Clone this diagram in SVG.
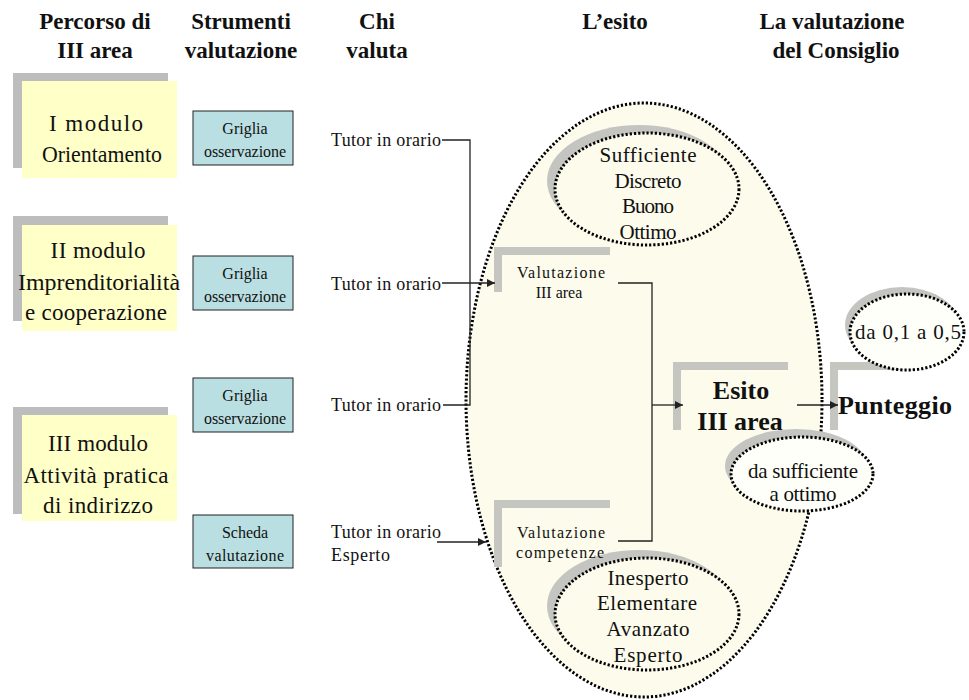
<svg xmlns="http://www.w3.org/2000/svg" width="969" height="700" viewBox="0 0 969 700" font-family="'Liberation Serif', 'DejaVu Serif', serif">
<style>
text{font-family:'Liberation Serif','Times New Roman','DejaVu Serif',serif;fill:#111;}
.hdr{font-size:23px;font-weight:bold;text-anchor:middle;}
.mod{font-size:23px;text-anchor:middle;}
.tool{font-size:16px;text-anchor:middle;}
.who{font-size:18px;}
.lvl{font-size:21px;text-anchor:middle;}
.val{font-size:16px;text-anchor:middle;}
.big{font-size:26px;font-weight:bold;}
.shadow{fill:#bdbdbd;}
.note{fill:#ffffc8;}
.toolbox{fill:#b9dfe2;stroke:#222;stroke-width:1;}
.dot{fill:#fcfbec;stroke:#000;stroke-width:3;stroke-dasharray:2.2 2;}
.dotw{fill:#fffffa;stroke:#000;stroke-width:3;stroke-dasharray:2.2 2;}
.crescent{fill:#c4c4c0;}
.bracket{fill:none;stroke:#c6c6c0;stroke-width:8;}
.conn{fill:none;stroke:#222;stroke-width:1.3;}
</style>
<defs>
<marker id="arr" viewBox="0 0 10 10" refX="10" refY="5" markerWidth="8" markerHeight="8" markerUnits="userSpaceOnUse" orient="auto">
<path d="M0,0 L10,5 L0,10 z" fill="#222"/>
</marker>
</defs>
<rect width="969" height="700" fill="#fff"/>

<g id="headers">
<text class="hdr" x="95" y="29">Percorso di</text>
<text class="hdr" x="95" y="58">III area</text>
<text class="hdr" x="241" y="29">Strumenti</text>
<text class="hdr" x="241" y="58">valutazione</text>
<text class="hdr" x="377" y="29">Chi</text>
<text class="hdr" x="377" y="58">valuta</text>
<text class="hdr" x="615" y="29">L’esito</text>
<text class="hdr" x="832" y="29">La valutazione</text>
<text class="hdr" x="836" y="58">del Consiglio</text>
</g>

<g id="modulo1">
<rect class="shadow" x="13" y="73" width="155" height="95"/>
<rect class="note" x="22" y="81" width="155" height="97"/>
<text class="mod" x="96" y="131" textLength="94" lengthAdjust="spacing">I modulo</text>
<text class="mod" x="102" y="162" textLength="120" lengthAdjust="spacingAndGlyphs">Orientamento</text>
</g>
<g id="modulo2">
<rect class="shadow" x="13" y="216" width="155" height="105"/>
<rect class="note" x="22" y="225" width="155" height="106"/>
<text class="mod" x="98" y="258" textLength="95" lengthAdjust="spacing">II modulo</text>
<text class="mod" x="99" y="290" textLength="162" lengthAdjust="spacingAndGlyphs">Imprenditorialità</text>
<text class="mod" x="96" y="320" textLength="142" lengthAdjust="spacing">e cooperazione</text>
</g>
<g id="modulo3">
<rect class="shadow" x="13" y="407" width="155" height="107"/>
<rect class="note" x="22" y="415" width="155" height="106"/>
<text class="mod" x="98" y="451" textLength="100" lengthAdjust="spacing">III modulo</text>
<text class="mod" x="96" y="483" textLength="145" lengthAdjust="spacing">Attività pratica</text>
<text class="mod" x="98" y="513" textLength="110" lengthAdjust="spacing">di indirizzo</text>
</g>

<g id="strumento1">
<rect class="toolbox" x="193" y="111" width="100" height="54"/>
<text class="tool" x="245" y="134">Griglia</text>
<text class="tool" x="245" y="157" textLength="82" lengthAdjust="spacing">osservazione</text>
</g>
<g id="strumento2">
<rect class="toolbox" x="193" y="256" width="100" height="54"/>
<text class="tool" x="245" y="279">Griglia</text>
<text class="tool" x="245" y="302" textLength="82" lengthAdjust="spacing">osservazione</text>
</g>
<g id="strumento3">
<rect class="toolbox" x="193" y="378" width="100" height="54"/>
<text class="tool" x="245" y="401">Griglia</text>
<text class="tool" x="245" y="424" textLength="82" lengthAdjust="spacing">osservazione</text>
</g>
<g id="strumento4">
<rect class="toolbox" x="193" y="515" width="100" height="53"/>
<text class="tool" x="245" y="538">Scheda</text>
<text class="tool" x="245" y="561" textLength="78" lengthAdjust="spacing">valutazione</text>
</g>

<g id="valutatori">
<text class="who" x="331" y="146" textLength="110" lengthAdjust="spacing">Tutor in orario</text>
<text class="who" x="331" y="290" textLength="110" lengthAdjust="spacing">Tutor in orario</text>
<text class="who" x="331" y="411" textLength="110" lengthAdjust="spacing">Tutor in orario</text>
<text class="who" x="331" y="538" textLength="110" lengthAdjust="spacing">Tutor in orario</text>
<text class="who" x="331" y="561" textLength="59" lengthAdjust="spacing">Esperto</text>
</g>

<g id="esito-area">
<ellipse class="dot" cx="644" cy="400" rx="178" ry="297"/>
</g>

<g id="livelli-area">
<ellipse class="crescent" cx="639" cy="181" rx="92" ry="56"/>
<ellipse class="dot" cx="647" cy="189" rx="92" ry="56"/>
<text class="lvl" x="648" y="162" textLength="97" lengthAdjust="spacing">Sufficiente</text>
<text class="lvl" x="648" y="188" textLength="67" lengthAdjust="spacing">Discreto</text>
<text class="lvl" x="648" y="213" textLength="52" lengthAdjust="spacing">Buono</text>
<text class="lvl" x="648" y="239" textLength="57" lengthAdjust="spacing">Ottimo</text>
</g>

<g id="livelli-competenze">
<ellipse class="crescent" cx="639" cy="606" rx="92" ry="56"/>
<ellipse class="dot" cx="647" cy="614" rx="92" ry="56"/>
<text class="lvl" x="648" y="585" textLength="81" lengthAdjust="spacing">Inesperto</text>
<text class="lvl" x="647" y="610" textLength="100" lengthAdjust="spacing">Elementare</text>
<text class="lvl" x="648" y="636" textLength="83" lengthAdjust="spacing">Avanzato</text>
<text class="lvl" x="648" y="662" textLength="69" lengthAdjust="spacing">Esperto</text>
</g>

<g id="valutazione-area">
<path class="bracket" d="M498,292 V251 H610"/>
<text class="val" x="561" y="278" textLength="88" lengthAdjust="spacing">Valutazione</text>
<text class="val" x="559" y="298">III area</text>
</g>

<g id="valutazione-competenze">
<path class="bracket" d="M498,567 V504 H610"/>
<text class="val" x="561" y="538" textLength="88" lengthAdjust="spacing">Valutazione</text>
<text class="val" x="560" y="558" textLength="88" lengthAdjust="spacing">competenze</text>
</g>

<g id="esito">
<path class="bracket" d="M677,430 V366 H788"/>
<text class="big" x="741" y="399" text-anchor="middle">Esito</text>
<text class="big" x="740" y="430" text-anchor="middle">III area</text>
</g>

<g id="punteggio">
<path class="bracket" d="M834,430 V366 H915"/>
<text class="big" x="838" y="414" textLength="114" lengthAdjust="spacing">Punteggio</text>
</g>

<g id="range-punteggio">
<ellipse class="crescent" cx="902" cy="325" rx="57" ry="38"/>
<ellipse class="dotw" cx="907" cy="332" rx="57" ry="38"/>
<text class="lvl" x="908" y="339" textLength="106" lengthAdjust="spacing">da 0,1 a 0,5</text>
</g>

<g id="range-esito">
<ellipse class="crescent" cx="796" cy="466" rx="71" ry="37"/>
<ellipse class="dotw" cx="802" cy="474" rx="71" ry="37"/>
<text class="lvl" x="803" y="478" textLength="110" lengthAdjust="spacing">da sufficiente</text>
<text class="lvl" x="803" y="501" textLength="67" lengthAdjust="spacing">a ottimo</text>
</g>

<g id="connectors">
<path class="conn" d="M442,140 H470 V405 H443"/>
<path class="conn" d="M442,283 H495" marker-end="url(#arr)"/>
<path class="conn" d="M437,542 H486" marker-end="url(#arr)"/>
<path class="conn" d="M618,283 H652 V541 H618"/>
<path class="conn" d="M652,405 H683" marker-end="url(#arr)"/>
<path class="conn" d="M797,405 H838" marker-end="url(#arr)"/>
</g>
</svg>
